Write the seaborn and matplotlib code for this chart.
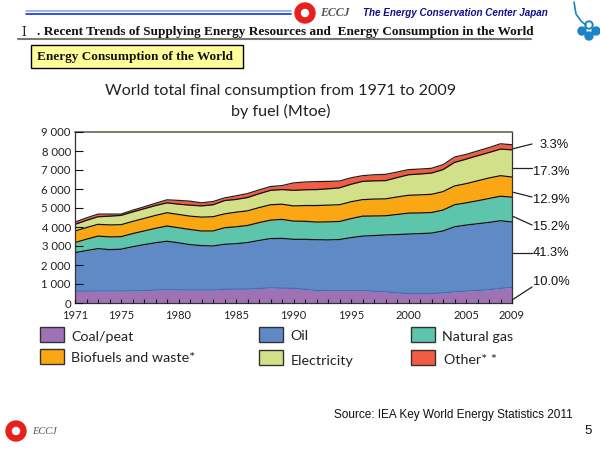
import numpy as np
import pandas as pd
import matplotlib
matplotlib.use("Agg")
import matplotlib.pyplot as plt
from matplotlib.patches import Rectangle, Circle
import seaborn as sns

# data (Mtoe)
years = list(range(1971, 2010))
coal = [620, 625, 630, 630, 630, 640, 650, 680, 700, 690, 680, 680, 680, 720, 730, 730, 760, 800, 780, 770,
        720, 660, 650, 650, 650, 650, 620, 590, 530, 500, 500, 500, 530, 590, 630, 660, 700, 770, 820]
oil = [2030, 2135, 2230, 2180, 2200, 2320, 2420, 2490, 2550, 2480, 2390, 2340, 2320, 2370, 2390, 2450, 2530, 2590, 2620, 2580,
       2630, 2670, 2670, 2690, 2790, 2870, 2930, 2990, 3070, 3130, 3150, 3180, 3260, 3420, 3470, 3510, 3540, 3560, 3440]
gas = [530, 600, 660, 670, 660, 690, 720, 760, 800, 790, 800, 770, 790, 870, 890, 900, 940, 970, 1000, 960,
       950, 930, 950, 950, 1000, 1050, 1030, 1010, 1060, 1100, 1090, 1080, 1100, 1160, 1170, 1210, 1260, 1290, 1310]
biofuels = [610, 610, 620, 630, 630, 640, 660, 680, 700, 700, 700, 730, 750, 730, 770, 770, 790, 810, 800, 800,
            830, 870, 880, 880, 890, 870, 890, 890, 920, 940, 950, 960, 970, 990, 1010, 1050, 1080, 1080, 1060]
electricity = [350, 380, 400, 460, 490, 500, 510, 520, 520, 540, 580, 590, 630, 700, 670, 700, 730, 760, 770, 820,
               830, 840, 860, 890, 920, 960, 960, 960, 1020, 1080, 1100, 1120, 1160, 1240, 1290, 1320, 1340, 1400, 1430]
other = [120, 130, 140, 110, 70, 90, 100, 120, 160, 200, 210, 160, 170, 140, 190, 210, 200, 200, 210, 390,
         410, 420, 390, 360, 340, 300, 320, 330, 290, 270, 260, 250, 260, 280, 250, 250, 260, 280, 270]

fuels = ["Coal/peat", "Oil", "Natural gas", "Biofuels and waste*", "Electricity", "Other**"]
colors = ["#9E72B4", "#5F8AC6", "#5CC5AC", "#FBA714", "#D3E08A", "#F25C43"]
edge_colors = ["#3F6FB5", "#111111", "#111111", "#111111", "#111111", "#222222"]
shares = ["10.0%", "41.3%", "15.2%", "12.9%", "17.3%", "3.3%"]
x_labels = [1971, 1975, 1980, 1985, 1990, 1995, 2000, 2005, 2009]
y_ticks = [0, 1000, 2000, 3000, 4000, 5000, 6000, 7000, 8000, 9000]
y_labels = ["0", "1 000", "2 000", "3 000", "4 000", "5 000", "6 000", "7 000", "8 000", "9 000"]

sns.set_style("white")
title_font = "Lato"

df = pd.DataFrame(dict(zip(fuels, [coal, oil, gas, biofuels, electricity, other])), index=years)
tops = df.cumsum(axis=1)
long_df = tops.reset_index(names="year").melt(id_vars="year", var_name="fuel", value_name="top")

fig = plt.figure(figsize=(6, 4.5), dpi=100)

# page furniture, in pixel coordinates
bg = fig.add_axes([0, 0, 1, 1])
bg.set_xlim(0, 600)
bg.set_ylim(450, 0)
bg.axis("off")

bg.plot([26, 291], [11, 11], color="#7FA0F0", lw=1.1)
bg.plot([26, 291], [14, 14], color="#1030E0", lw=1.2)
bg.add_patch(Circle((305, 13), 10, color="#E8201C"))
bg.add_patch(Circle((305, 13), 3.5, color="white"))
bg.text(320, 13.5, "ECCJ", family="Liberation Serif", style="italic", weight="bold", fontsize=8.5, color="#555555", va="center")
bg.text(363, 13.5, "The Energy Conservation Center Japan", family="Liberation Sans", style="italic", weight="bold",
        fontsize=7.1, color="#10108C", va="center")
bg.text(24, 32, "Ⅰ", family="DejaVu Serif", fontsize=8.5, ha="center", va="center", color="#222222")
bg.text(37, 32, ". Recent Trends of Supplying Energy Resources and  Energy Consumption in the World",
        family="Liberation Serif", weight="bold", fontsize=9.55, va="center", color="#111111")
bg.plot([18, 531], [38.5, 38.5], color="#777777", lw=1.5)
bg.add_patch(Rectangle((31, 45), 212, 23, fc="#FFFF99", ec="black", lw=1))
bg.text(37, 57, "Energy Consumption of the World", family="Liberation Serif", weight="bold", fontsize=9.5, va="center", color="#111111")

# clover
bg.plot([574, 576, 581, 586], [2, 14, 21, 25], color="#1B84C6", lw=1.2)
for cx, cy in [(589, 25), (582, 31), (596, 31), (589, 36)]:
    bg.add_patch(Circle((cx, cy), 4, color="#1B84C6"))
bg.add_patch(Circle((589, 25), 2, color="white"))

bg.text(281, 91, "World total final consumption from 1971 to 2009", family=title_font, fontsize=11.6, ha="center", va="center", color="#222222")
bg.text(281, 111, "by fuel (Mtoe)", family=title_font, fontsize=11.6, ha="center", va="center", color="#222222")

# share labels with leader lines
leaders = [((512, 300), (532, 287), (533, 282)), ((512, 253), (532, 253), (533, 253)), ((512, 216), (532, 225), (533, 227)),
           ((512, 192), (532, 197), (533, 200)), ((512, 168), (532, 168), (533, 172)), ((512, 149), (532, 144), (540, 145))]
for s, (p0, p1, p2) in zip(shares, leaders):
    bg.plot([p0[0], p1[0]], [p0[1], p1[1]], color="#222222", lw=0.9)
    bg.text(p2[0], p2[1], s, family="Liberation Sans", fontsize=9.3, va="center", color="#111111")

# legend, laid out by hand as in the original
slots = [(40, 327, 71, 337), (259, 327, 290, 336), (411, 327, 442, 337),
         (40, 349, 71, 358), (259, 350, 291, 361), (411, 350, 444, 360)]
for name, col, (bx, by, tx, ty) in zip(fuels, colors, slots):
    bg.add_patch(Rectangle((bx, by), 24, 15, fc=col, ec="#333333", lw=1))
    bg.text(tx, ty, name.replace("**", "* *"), family=title_font, fontsize=10.3, va="center", color="#222222")

bg.text(334, 415, "Source: IEA Key World Energy Statistics 2011", family="Liberation Sans", fontsize=8.45, va="center", color="#111111")
bg.text(592, 431, "5", family="Liberation Sans", fontsize=9.5, ha="right", va="center", color="#111111")
bg.add_patch(Circle((16, 431), 10, color="#E8201C"))
bg.add_patch(Circle((16, 431), 3.5, color="white"))
bg.text(32, 431, "ECCJ", family="Liberation Serif", style="italic", fontsize=7.5, color="#555555", va="center")

# main chart
ax = fig.add_axes([75 / 600, 1 - 303 / 450, (512 - 75) / 600, (303 - 132) / 450])
ax.patch.set_alpha(0)

lower = np.zeros(len(years))
for name, col in zip(fuels, colors):
    ax.fill_between(years, lower, tops[name].values, color=col, lw=0, zorder=1)
    lower = tops[name].values

sns.lineplot(data=long_df, x="year", y="top", hue="fuel", hue_order=fuels, palette=edge_colors, lw=0.9, legend=False, ax=ax, zorder=2)

ax.set_xlim(1971, 2009)
ax.set_ylim(0, 9000)
ax.set_xlabel("")
ax.set_ylabel("")
ax.set_xticks(years, labels=[str(y) if y in x_labels else "" for y in years])
ax.set_yticks(y_ticks, labels=y_labels)
ax.tick_params(axis="x", direction="in", length=3, width=0.8, color="#111111", bottom=True, pad=5, labelsize=8, labelcolor="#222222")
ax.tick_params(axis="y", direction="in", length=6, width=0.8, color="#111111", left=True, pad=3, labelsize=8.2, labelcolor="#222222")
for lab in ax.get_xticklabels() + ax.get_yticklabels():
    lab.set_family(title_font)
for side, spine in ax.spines.items():
    spine.set_visible(True)
    spine.set_color("#333333")
    spine.set_linewidth(0.9)
ax.spines["top"].set_color("#666655")
ax.spines["top"].set_linewidth(1.2)
ax.set_axisbelow(False)

fig.savefig("out.png", dpi=100)
